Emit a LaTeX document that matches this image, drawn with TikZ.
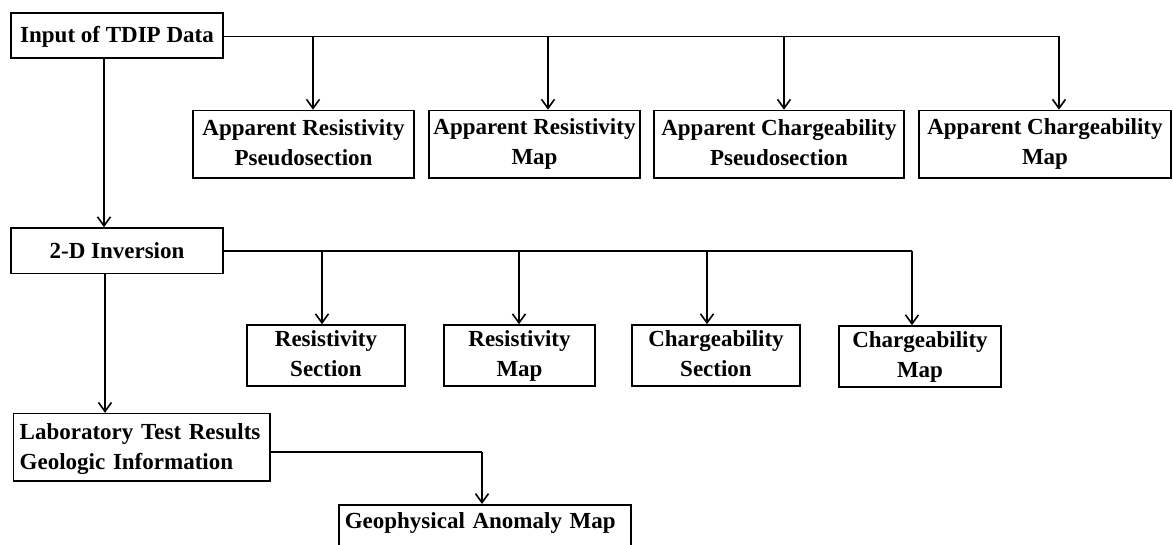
\documentclass[tikz,border=0pt]{standalone}
\usepackage{fontspec}
\setmainfont{Liberation Serif}
\usetikzlibrary{arrows.meta}
\begin{document}
\begin{tikzpicture}[x=1pt,y=-1pt,
  every node/.style={font=\bfseries\fontsize{23}{30}\selectfont},
  box/.style={draw, line width=1.6pt, align=center, inner sep=0pt,
    execute at begin node={\rule{0pt}{19pt}},
    execute at end node={\rule[-3pt]{0pt}{3pt}}},
  bus/.style={line width=1.4pt},
  arr/.style={line width=2.6pt, -{Straight Barb[length=9pt,width=13pt,line width=1.6pt]}},
  thinarr/.style={line width=1.8pt, -{Straight Barb[length=9pt,width=13pt,line width=1.6pt]}}]
\clip (0,0) rectangle (1173,545);
\fill[white] (0,0) rectangle (1173,545);
% first level
\node[box, minimum width=212pt, minimum height=45pt] (in) at (117,35.5) {Input of TDIP Data};
\node[box, minimum width=221pt, minimum height=67.5pt] (arp) at (303.5,144.25) {Apparent Resistivity\\Pseudosection};
\node[box, minimum width=211pt, minimum height=67.5pt] (arm) at (534.5,144.25) {Apparent Resistivity\\Map};
\node[box, minimum width=250pt, minimum height=67.5pt] (acp) at (779,144.25) {Apparent Chargeability\\Pseudosection};
\node[box, minimum width=252pt, minimum height=67.5pt] (acm) at (1045,144.25) {Apparent Chargeability\\Map};
% second level
\node[box, minimum width=212pt, minimum height=45.5pt] (inv) at (117,250.75) {2-D Inversion};
\node[box, minimum width=158pt, minimum height=61pt] (rs) at (326,355.5) {Resistivity\\Section};
\node[box, minimum width=151pt, minimum height=61pt] (rm) at (519.5,355.5) {Resistivity\\Map};
\node[box, minimum width=168pt, minimum height=61pt] (cs) at (716,355.5) {Chargeability\\Section};
\node[box, minimum width=162pt, minimum height=61pt] (cm) at (920,356.5) {Chargeability\\Map};
% third level
\node[box, align=left, text width=244pt, inner xsep=6.25pt, minimum height=67.4pt] (lab) at (141.75,447.3) {Laboratory Test Results\\Geologic Information};
\node[box, anchor=north west, align=left, text width=280pt, inner xsep=6pt, inner ysep=5pt,
  execute at begin node={\rule{0pt}{19pt}},
  execute at end node={\rule[-45pt]{0pt}{45pt}}] (geo) at (338,504) {Geophysical Anomaly Map};
% bus coordinates
\coordinate (a1) at (313,36.5);
\coordinate (a2) at (548,36.5);
\coordinate (a3) at (784,36.5);
\coordinate (a4) at (1059,36.5);
\coordinate (b1) at (322,251);
\coordinate (b2) at (519,251);
\coordinate (b3) at (707,251);
\coordinate (b4) at (912,251);
\coordinate (v) at (104,0);
\coordinate (g) at (482,452);
% connectors level 1
\draw[bus] (in.east |- a1) -- (a4);
\draw[arr] (a1) -- (a1 |- arp.north);
\draw[arr] (a2) -- (a2 |- arm.north);
\draw[arr] (a3) -- (a3 |- acp.north);
\draw[arr] (a4) -- (a4 |- acm.north);
\draw[arr] (v |- in.south) -- (v |- inv.north);
% connectors level 2
\draw[bus] (inv.east |- b1) -- (b4);
\draw[arr] (b1) -- (b1 |- rs.north);
\draw[arr] (b2) -- (b2 |- rm.north);
\draw[arr] (b3) -- (b3 |- cs.north);
\draw[arr] (b4) -- (b4 |- cm.north);
\draw[thinarr] ([xshift=-12pt]inv.south) -- ([xshift=-12pt]inv.south |- lab.north);
% connectors level 3
\draw[bus] (lab.east |- g) -- (g);
\draw[thinarr] (g) -- (g |- geo.north);
\end{tikzpicture}
\end{document}
